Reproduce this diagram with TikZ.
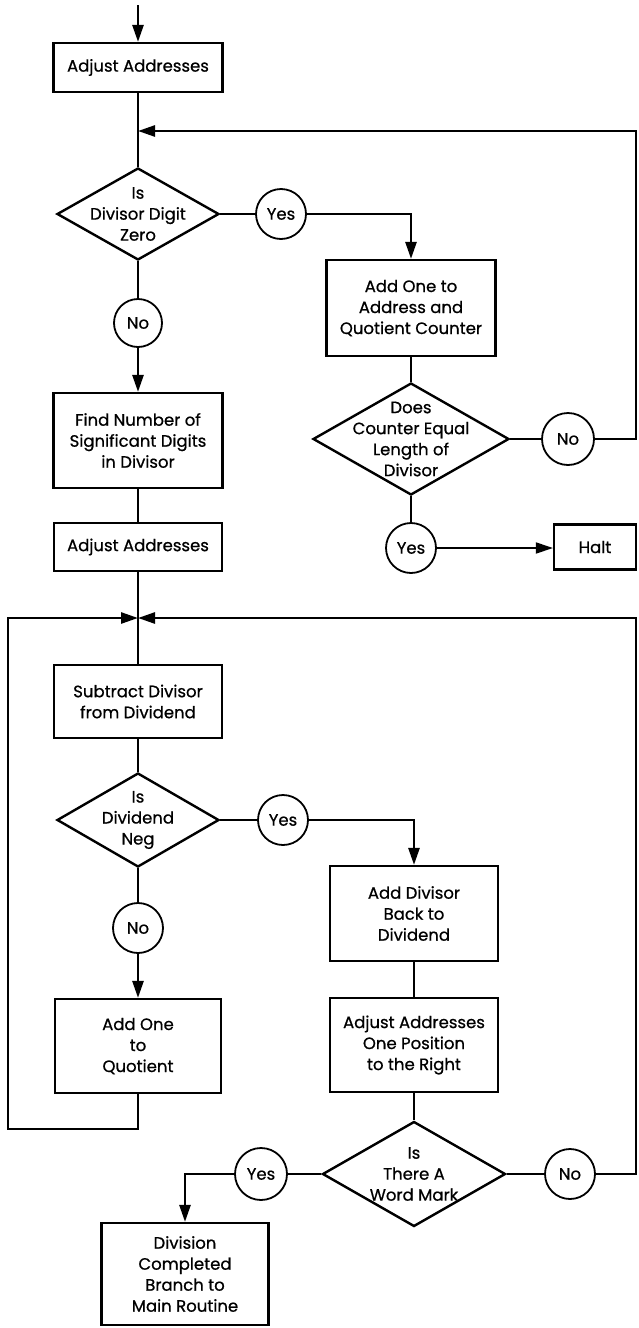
\documentclass[tikz,border=0pt]{standalone}
\usepackage{fontspec}
\setmainfont{Poppins}[FakeBold=0.7]
\usetikzlibrary{shapes.geometric,arrows.meta}
\begin{document}
\begin{tikzpicture}[x=1pt,y=-1pt,
  every node/.style={font=\fontsize{16.5}{21}\selectfont, align=center},
  box/.style={draw, line width=2.2pt, rectangle, inner sep=0pt},
  dia/.style={draw, line width=2.4pt, diamond, inner sep=0pt},
  circ/.style={draw, line width=1.8pt, circle, inner sep=0pt, minimum size=50pt},
  ln/.style={line width=2.6pt},
  arr/.style={ln, -{Triangle[length=17pt,width=11pt]}},
  thinarr/.style={line width=1.8pt, -{Triangle[length=17pt,width=11pt]}},
]
\useasboundingbox (0,0) rectangle (638,1328);

% nodes
\node[box, minimum width=169pt, minimum height=49pt] (b1) at (138,67.5) {Adjust Addresses};
\node[dia, minimum width=162pt, minimum height=92pt,
  label={[align=center]center:Is\\Divisor Digit\\Zero}] (d1) at (138,214) {};
\node[circ] (yes1) at (281,214) {Yes};
\node[circ, minimum size=48pt] (no1) at (138,323) {No};
\node[box, minimum width=169pt, minimum height=95pt] (b3) at (138,440.5) {Find Number of\\Significant Digits\\in Divisor};
\node[box, minimum width=168pt, minimum height=48pt] (b4) at (138,547) {Adjust Addresses};
\node[box, minimum width=168pt, minimum height=73pt] (b5) at (138,701.5) {Subtract Divisor\\from Dividend};
\node[dia, minimum width=162pt, minimum height=94pt,
  label={[align=center]center:Is\\Dividend\\Neg}] (d3) at (138,820) {};
\node[circ] (yes3) at (283,820) {Yes};
\node[circ] (no3) at (138,928) {No};
\node[box, minimum width=166pt, minimum height=94pt] (b8) at (138,1046) {Add One\\to\\Quotient};

\node[box, minimum width=169pt, minimum height=96pt] (b2) at (411,308) {Add One to\\Address and\\Quotient Counter};
\node[dia, minimum width=196pt, minimum height=112pt,
  label={[align=center]center:Does\\Counter Equal\\Length of\\Divisor}] (d2) at (411,439) {};
\node[circ, minimum size=52pt] (no2) at (568,439) {No};
\node[circ] (yes5) at (411,548) {Yes};
\node[box, minimum width=82pt, minimum height=45pt] (halt) at (595,547) {Halt};
\node[box, minimum width=168pt, minimum height=95pt] (b6) at (414,913.5) {Add Divisor\\Back to\\Dividend};
\node[box, minimum width=168pt, minimum height=94pt] (b7) at (414,1045) {Adjust Addresses\\One Position\\to the Right};
\node[dia, minimum width=183pt, minimum height=105pt,
  label={[align=center]center:Is\\There A\\Word Mark}] (d4) at (414,1174) {};
\node[circ, minimum size=52pt] (yes4) at (261,1174) {Yes};
\node[circ] (no4) at (570,1174) {No};
\node[box, minimum width=167pt, minimum height=102pt] (b9) at (185,1274) {Division\\Completed\\Branch to\\Main Routine};

% coordinates
\coordinate (start) at (138,5);
\coordinate (j1) at (138,131);
\coordinate (r1) at (636,131);
\coordinate (j2) at (138,618);
\coordinate (r2) at (636,618);
\coordinate (l1) at (8,1129);

% connectors
\draw[arr] (start) -- (b1.north);
\draw[ln] (b1.south) -- (d1.north);
\draw[arr] (no2.east) -| (r1) -- (j1);
\draw[ln] (d1.east) -- (yes1.west);
\draw[arr] (yes1.east) -| (b2.north);
\draw[ln] (d1.south) -- (no1.north);
\draw[arr] (no1.south) -- (b3.north);
\draw[ln] (b2.south) -- (d2.north);
\draw[ln] (d2.east) -- (no2.west);
\draw[ln] (d2.south) -- (yes5.north);
\draw[thinarr] (yes5.east) -- (yes5.east -| halt.west);
\draw[ln] (b3.south) -- (b4.north);
\draw[ln] (b4.south) -- (b5.north);
\draw[arr] (b8.south) |- (l1) |- (j2);
\draw[arr] (no4.east) -| (r2) -- (j2);
\draw[ln] (b5.south) -- (d3.north);
\draw[ln] (d3.east) -- (yes3.west);
\draw[arr] (yes3.east) -| (b6.north);
\draw[ln] (d3.south) -- (no3.north);
\draw[arr] (no3.south) -- (b8.north);
\draw[ln] (b6.south) -- (b7.north);
\draw[ln] (b7.south) -- (d4.north);
\draw[ln] (d4.west) -- (yes4.east);
\draw[arr] (yes4.west) -| (b9.north);
\draw[ln] (d4.east) -- (no4.west);
\end{tikzpicture}
\end{document}
